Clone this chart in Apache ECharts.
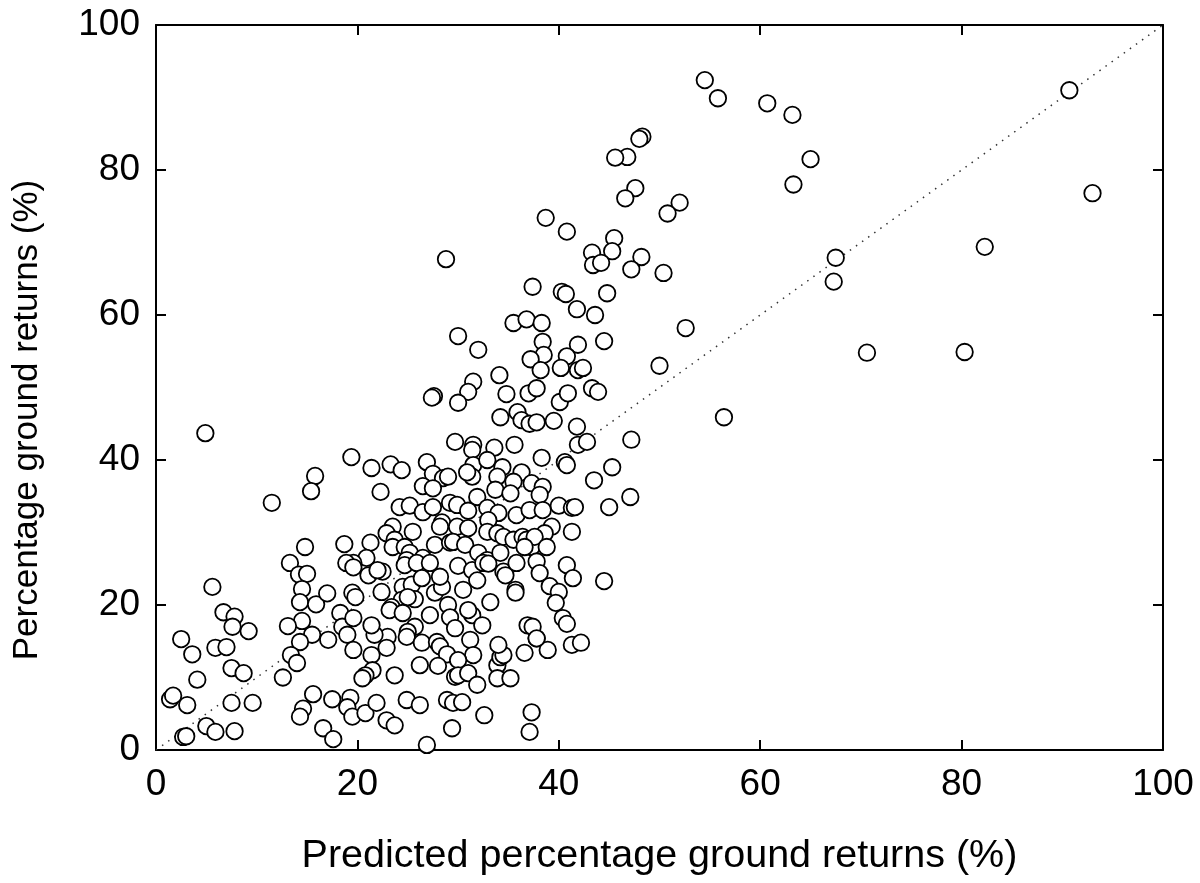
<!DOCTYPE html>
<html>
<head>
<meta charset="utf-8">
<script src="https://cdn.jsdelivr.net/npm/echarts@6/dist/echarts.min.js"></script>
<style>
html,body{margin:0;padding:0;background:#fff;}
#chart{width:1200px;height:883px;}
</style>
</head>
<body>
<div id="chart"></div>
<script>
var xTitle = 'Predicted percentage ground returns (%)';
var yTitle = 'Percentage ground returns (%)';
var axisTicks = [0, 20, 40, 60, 80, 100];
var identityLine = [[0, 0], [100, 100]];

var predicted = [
54.5,55.8,60.7,63.2,90.7,48.3,48.0,46.8,45.6,65.0,63.3,93.0,47.6,46.6,52.0,50.8,38.7,40.8,45.5,45.3,
43.3,43.4,44.2,48.2,47.2,28.8,82.3,67.5,67.3,50.4,37.4,40.3,40.7,44.8,41.8,43.6,35.5,36.8,38.3,52.6,
30.0,44.5,38.4,32.0,41.9,38.5,37.2,40.8,70.6,80.3,50.0,40.2,41.9,42.4,38.2,34.1,31.5,31.0,27.6,27.4,
30.0,34.8,37.0,37.8,40.1,40.9,43.3,43.9,56.4,35.9,36.3,37.1,37.8,34.2,39.5,41.8,41.9,42.8,47.2,4.9,
29.7,31.5,31.4,33.6,35.6,45.3,43.5,47.1,45.0,38.3,40.6,40.8,19.4,21.4,23.3,24.4,26.9,27.5,28.5,29.0,
26.5,27.5,22.3,15.8,15.4,11.5,31.5,32.9,34.4,36.3,31.4,30.9,33.9,35.5,37.3,38.4,38.1,33.7,35.2,31.9,
24.2,25.2,26.5,27.5,29.2,29.9,31.0,32.9,34.0,35.8,37.1,38.4,40.0,41.3,41.6,23.5,22.9,25.5,28.4,28.2,
29.9,31.0,33.0,32.9,33.9,34.5,35.5,36.4,36.8,37.3,39.3,38.6,37.6,41.3,38.8,14.8,18.7,21.3,20.9,19.6,
23.7,23.5,24.7,25.2,24.9,26.5,27.7,29.2,29.5,30.7,32.0,32.9,34.2,36.6,37.8,40.8,38.1,41.4,44.5,39.1,
40.0,39.7,40.4,40.8,37.8,38.9,41.3,42.2,13.3,14.2,15.0,18.9,14.5,14.3,15.9,17.0,14.5,13.1,15.5,14.3,
17.1,13.4,14.0,15.6,17.5,14.6,14.3,16.6,17.6,18.3,18.5,5.6,6.7,7.8,7.6,9.2,2.5,3.6,5.9,7.0,
7.5,8.7,4.1,12.6,1.4,1.7,3.1,7.5,9.6,5.0,5.9,7.8,2.7,3.0,19.6,21.1,22.5,22.0,24.7,25.9,
27.2,30.0,31.4,32.5,33.0,34.5,34.7,35.8,35.7,35.7,19.5,19.8,22.4,24.5,25.4,26.4,27.7,28.4,28.2,30.5,
31.9,33.2,24.4,25.7,25.0,23.4,23.2,24.5,27.2,29.0,29.2,31.4,31.0,32.4,29.7,25.7,25.0,23.0,21.7,21.4,
19.6,19.0,24.9,26.4,27.9,28.2,28.9,31.2,31.5,30.0,29.7,30.0,31.0,31.9,19.6,21.4,22.9,21.5,20.8,20.5,
23.7,26.2,28.0,33.9,34.2,34.5,34.0,33.9,35.2,36.6,36.9,37.4,19.3,19.0,19.5,20.8,21.9,22.9,23.7,24.9,
26.2,28.9,29.5,30.4,29.4,26.9,32.6,37.3,37.1,37.8
];
var observed = [
92.4,89.9,89.2,87.6,91.0,84.6,84.3,81.8,81.7,81.5,78.0,76.8,77.5,76.1,75.5,74.0,73.4,71.5,70.6,68.8,
68.6,66.9,67.2,68.0,66.3,67.7,69.4,67.9,64.6,65.8,63.9,63.2,62.9,63.0,60.8,60.0,58.9,59.4,58.9,58.2,
57.1,56.4,56.3,55.2,55.9,54.5,53.9,54.3,54.8,54.9,53.0,52.7,52.4,52.7,52.4,51.7,50.8,49.4,48.8,48.6,
47.9,49.1,49.2,49.9,48.0,49.2,49.9,49.4,45.9,46.6,45.5,45.0,45.2,45.9,45.4,44.6,42.1,42.5,42.8,43.7,
42.5,42.1,41.4,41.7,42.1,39.0,37.2,34.9,33.5,40.3,39.7,39.3,40.4,38.9,39.4,38.6,39.7,38.1,37.5,37.7,
36.4,36.1,35.6,37.8,35.7,34.1,39.3,40.0,39.0,38.3,37.7,38.3,37.7,37.0,36.8,36.3,35.2,35.9,35.4,34.9,
33.5,33.7,32.8,33.5,34.1,33.8,33.0,33.4,32.7,32.4,33.1,33.1,33.7,33.4,33.5,30.8,29.9,30.1,31.4,30.8,
30.8,30.6,31.7,30.1,29.9,29.4,29.0,29.4,29.0,28.0,30.8,29.9,29.4,30.1,28.0,28.0,28.4,28.6,26.5,25.8,
29.0,28.0,28.0,27.2,26.2,26.5,28.3,28.6,28.7,28.3,27.2,26.2,27.2,28.0,26.0,25.5,24.4,23.7,23.3,22.6,
21.8,20.3,18.2,17.4,15.4,13.8,14.5,14.8,25.8,24.2,24.3,25.8,22.2,20.4,20.1,21.6,17.8,17.1,15.9,14.9,
15.2,13.1,12.0,7.7,7.0,5.7,4.6,3.0,1.5,18.9,17.0,22.5,19.0,18.4,17.0,16.4,15.3,13.2,14.1,14.2,
11.3,10.6,9.7,10.0,7.0,7.5,6.2,6.5,6.5,3.3,2.5,2.6,1.8,1.9,25.2,24.1,24.6,24.8,25.5,25.8,
25.8,25.4,24.8,25.8,25.7,24.6,24.1,25.8,22.1,21.7,21.7,21.1,21.8,22.5,22.8,23.7,21.7,22.5,23.9,22.1,
23.4,20.4,20.7,20.8,21.1,19.7,19.3,18.9,18.6,20.0,18.3,18.6,19.3,17.2,16.8,17.0,16.3,15.6,15.9,17.2,
18.2,15.9,15.6,14.8,14.9,14.3,13.2,15.2,13.1,12.4,10.1,10.3,10.6,9.0,13.8,13.1,14.1,11.0,10.3,9.9,
10.3,11.7,11.6,11.7,12.8,13.1,14.5,9.9,9.9,13.4,17.2,17.0,7.2,5.9,4.6,5.1,6.5,4.1,3.4,6.9,
6.2,6.9,6.5,6.6,3.0,0.7,4.8,5.2,2.5,15.4
];

var points = predicted.map(function (x, i) { return [x, observed[i]]; });

var font = '"Liberation Sans", Arial, sans-serif';
var frameLine = { show: true, onZero: false, lineStyle: { color: '#000', width: 2 } };
var innerTick = { show: true, inside: true, length: 10, lineStyle: { color: '#000', width: 2 } };

var chart = echarts.init(document.getElementById('chart'), null, { renderer: 'canvas' });
chart.setOption({
  animation: false,
  backgroundColor: '#fff',
  grid: { left: 156, right: 37, top: 25, bottom: 133, containLabel: false },
  xAxis: [
    {
      type: 'value', min: axisTicks[0], max: axisTicks[axisTicks.length - 1], interval: 20,
      position: 'bottom',
      axisLine: frameLine, axisTick: innerTick, splitLine: { show: false },
      axisLabel: { color: '#000', fontSize: 37, fontFamily: font, margin: 16 },
      name: xTitle, nameLocation: 'middle', nameGap: 86,
      nameTextStyle: { color: '#000', fontSize: 39.5, fontFamily: font }
    },
    {
      type: 'value', min: 0, max: 100, interval: 20, position: 'top',
      axisLine: frameLine, axisTick: innerTick, axisLabel: { show: false }, splitLine: { show: false }
    }
  ],
  yAxis: [
    {
      type: 'value', min: axisTicks[0], max: axisTicks[axisTicks.length - 1], interval: 20,
      position: 'left',
      axisLine: frameLine, axisTick: innerTick, splitLine: { show: false },
      axisLabel: { color: '#000', fontSize: 37, fontFamily: font, margin: 16 }
    },
    {
      type: 'value', min: 0, max: 100, interval: 20, position: 'right',
      axisLine: frameLine, axisTick: innerTick, axisLabel: { show: false }, splitLine: { show: false }
    }
  ],
  graphic: [
    {
      type: 'text', x: 27, y: 420, rotation: Math.PI / 2,
      style: {
        text: yTitle, fill: '#000', font: '35px "Liberation Sans", Arial, sans-serif',
        textAlign: 'center', textVerticalAlign: 'middle', align: 'center', verticalAlign: 'middle'
      }
    }
  ],
  series: [
    {
      type: 'line', data: identityLine, xAxisIndex: 0, yAxisIndex: 0,
      symbol: 'none', silent: true, z: 1,
      lineStyle: { color: '#333', width: 1.5, type: [1.5, 6] }
    },
    {
      type: 'scatter', data: points, xAxisIndex: 0, yAxisIndex: 0,
      symbol: 'circle', symbolSize: 16.5, z: 2,
      itemStyle: { color: '#fff', borderColor: '#000', borderWidth: 1.8, opacity: 1 }
    }
  ]
});
</script>
</body>
</html>
